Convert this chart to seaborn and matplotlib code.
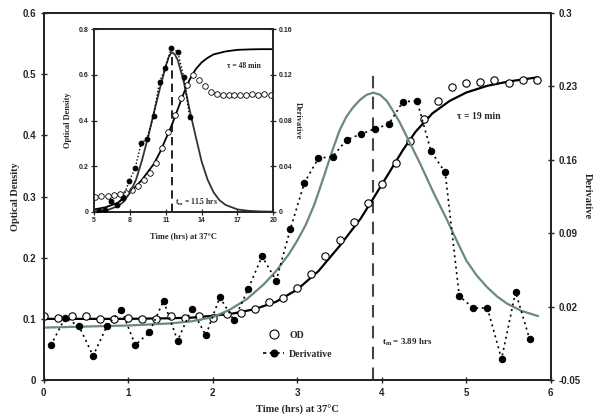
import numpy as np
import pandas as pd
import seaborn as sns
import matplotlib.pyplot as plt
from matplotlib.lines import Line2D

# ---- main panel data (time in hrs) ----
od_time = [0.0, 0.167, 0.333, 0.5, 0.667, 0.833, 1.0, 1.167, 1.333, 1.5, 1.667, 1.833,
           2.0, 2.167, 2.333, 2.5, 2.667, 2.833, 3.0, 3.167, 3.333, 3.5, 3.667, 3.833,
           4.0, 4.167, 4.333, 4.5, 4.667, 4.833, 5.0, 5.167, 5.333, 5.5, 5.667, 5.833]
od_vals = [0.104, 0.101, 0.104, 0.104, 0.099, 0.100, 0.102, 0.100, 0.099, 0.104, 0.101, 0.105,
           0.102, 0.108, 0.109, 0.116, 0.127, 0.134, 0.150, 0.174, 0.202, 0.229, 0.259, 0.290,
           0.321, 0.354, 0.390, 0.426, 0.456, 0.479, 0.485, 0.488, 0.490, 0.486, 0.491, 0.490]

der_time = [0.083, 0.25, 0.417, 0.583, 0.75, 0.917, 1.083, 1.25, 1.417, 1.583, 1.75, 1.917,
            2.083, 2.25, 2.417, 2.583, 2.75, 2.917, 3.083, 3.25, 3.417, 3.583, 3.75, 3.917,
            4.083, 4.25, 4.417, 4.583, 4.75, 4.917, 5.083, 5.25, 5.417, 5.583, 5.75]
der_vals = [-0.017, 0.009, 0.0015, -0.027, 0.002, 0.017, -0.0166, -0.0045, 0.0256, -0.0125, 0.018, -0.0074,
            0.029, 0.007, 0.0366, 0.068, 0.0447, 0.0937, 0.138, 0.1615, 0.163, 0.179, 0.1845, 0.1895,
            0.194, 0.2155, 0.216, 0.168, 0.148, 0.030, 0.0187, 0.0187, -0.030, 0.034, -0.0112]

fit_time = [0.0, 0.5, 1.0, 1.5, 1.75, 2.0, 2.25, 2.5, 2.75, 3.0, 3.25, 3.5, 3.75, 3.9,
            4.1, 4.25, 4.4, 4.6, 4.8, 5.0, 5.25, 5.5, 5.85]
fit_vals = [0.100, 0.100, 0.100, 0.101, 0.102, 0.105, 0.109, 0.116, 0.128, 0.148, 0.178, 0.219,
            0.264, 0.297, 0.342, 0.376, 0.406, 0.436, 0.456, 0.470, 0.481, 0.488, 0.495]

bell_time = [0.0, 0.5, 1.0, 1.5, 1.75, 2.0, 2.2, 2.4, 2.6, 2.75, 2.9, 3.0, 3.1, 3.2, 3.31, 3.42,
             3.5, 3.58, 3.66, 3.74, 3.82, 3.9, 3.98, 4.06, 4.13, 4.21, 4.29, 4.37, 4.45, 4.53,
             4.61, 4.69, 4.77, 4.88, 5.0, 5.12, 5.24, 5.36, 5.48, 5.65, 5.85]
bell_vals = [0.000, 0.001, 0.002, 0.004, 0.006, 0.010, 0.017, 0.027, 0.041, 0.054, 0.070, 0.083,
             0.098, 0.117, 0.143, 0.170, 0.188, 0.201, 0.210, 0.217, 0.222, 0.224, 0.222, 0.216,
             0.207, 0.196, 0.183, 0.170, 0.157, 0.143, 0.129, 0.116, 0.103, 0.084, 0.064, 0.050,
             0.039, 0.030, 0.023, 0.016, 0.011]

# ---- inset data ----
in_od_time = [5.1, 5.6, 6.15, 6.7, 7.2, 7.7, 8.2, 8.7, 9.2, 9.7, 10.2, 10.7, 11.2, 11.75, 12.25,
              12.75, 13.25, 13.75, 14.25, 14.75, 15.25, 15.75, 16.25, 16.75, 17.25, 17.75,
              18.25, 18.75, 19.25, 19.8]
in_od_vals = [0.066, 0.067, 0.069, 0.072, 0.076, 0.082, 0.095, 0.113, 0.140, 0.170, 0.215, 0.280,
              0.350, 0.425, 0.500, 0.555, 0.598, 0.578, 0.553, 0.527, 0.515, 0.512, 0.512, 0.512,
              0.513, 0.513, 0.518, 0.514, 0.516, 0.513]

in_der_time = [5.37, 5.92, 6.42, 6.87, 7.42, 7.93, 8.43, 8.93, 9.43, 9.97, 10.47, 10.97,
               11.47, 12.0, 12.5, 13.0]
in_der_vals = [0.001, 0.0015, 0.009, 0.006, 0.012, 0.027, 0.038, 0.060, 0.064, 0.084, 0.114, 0.126,
               0.144, 0.140, 0.118, 0.083]

in_fit_time = [5.0, 6.0, 7.0, 8.0, 9.0, 10.0, 10.5, 11.0, 11.5, 12.0, 12.5, 13.0, 13.5, 14.0,
               14.5, 15.0, 16.0, 17.0, 18.0, 19.0, 20.0]
in_fit_vals = [0.010, 0.020, 0.040, 0.085, 0.140, 0.210, 0.260, 0.320, 0.380, 0.450, 0.520, 0.580,
               0.625, 0.655, 0.675, 0.690, 0.703, 0.710, 0.712, 0.713, 0.713]

in_bell_time = [5.0, 6.0, 7.0, 7.5, 8.0, 8.5, 9.0, 9.5, 10.0, 10.5, 11.0, 11.25, 11.5, 11.75, 12.0,
                12.5, 13.0, 13.5, 14.0, 14.5, 15.0, 15.5, 16.0, 17.0, 18.0, 19.0, 20.0]
in_bell_vals = [0.0003, 0.001, 0.005, 0.009, 0.017, 0.028, 0.045, 0.065, 0.087, 0.108, 0.128, 0.136,
                0.140, 0.138, 0.133, 0.114, 0.089, 0.066, 0.044, 0.028, 0.017, 0.010, 0.006, 0.002,
                0.0007, 0.0002, 0.0001]

sns.set_style("ticks")
plt.rcParams['font.family'] = ['Liberation Serif', 'DejaVu Serif']
plt.rcParams['font.weight'] = 'bold'

tickfont = {'family': 'Liberation Sans', 'weight': 'bold'}
gray = '#6a8884'

fig = plt.figure(figsize=(6, 4.19), dpi=100)
ax = fig.add_axes([0.073, 0.093, 0.845, 0.876])
ax2 = ax.twinx()

# main curves
sns.lineplot(x=fit_time, y=fit_vals, ax=ax, color='black', lw=1.6, zorder=2)
sns.scatterplot(x=od_time, y=od_vals, ax=ax, marker='o', s=28, facecolor='white',
                edgecolor='black', linewidth=0.8, zorder=3)
sns.lineplot(x=bell_time, y=bell_vals, ax=ax2, color=gray, lw=1.6, zorder=2)
sns.lineplot(x=der_time, y=der_vals, ax=ax2, color='black', lw=1.2, linestyle=(0, (1.2, 2.2)),
             marker='o', markersize=4.6, markeredgecolor='black', markerfacecolor='black', zorder=3)
ax.vlines(3.89, 0, 0.5, color='#444444', lw=1.5, linestyles=(0, (6, 4)), zorder=1)

ax.set_xlim(0, 6)
ax.set_ylim(0, 0.6)
ax2.set_ylim(-0.05, 0.3)
ax.set_xticks([0, 1, 2, 3, 4, 5, 6])
ax.set_xticklabels(['0', '1', '2', '3', '4', '5', '6'], fontdict=tickfont, fontsize=7)
ax.set_yticks([0, 0.1, 0.2, 0.3, 0.4, 0.5, 0.6])
ax.set_yticklabels(['0', '0.1', '0.2', '0.3', '0.4', '0.5', '0.6'], fontdict=tickfont, fontsize=7)
ax2.set_yticks([-0.05, 0.02, 0.09, 0.16, 0.23, 0.3])
ax2.set_yticklabels(['-0.05', '0.02', '0.09', '0.16', '0.23', '0.3'], fontdict=tickfont, fontsize=7)
for a in (ax, ax2):
    a.tick_params(direction='inout', length=5, width=1, pad=3)
    for sp in a.spines.values():
        sp.set_linewidth(1.4)
        sp.set_visible(True)
ax.set_xlabel('Time (hrs) at 37°C', fontsize=7.5, fontweight='bold', labelpad=5)
ax.set_ylabel('Optical Density', fontsize=7.5, fontweight='bold', labelpad=2)
ax2.set_ylabel('Derivative', fontsize=7.5, fontweight='bold', rotation=270, labelpad=8)

ax.text(5.15, 0.431, 'τ = 19 min', fontsize=7, fontweight='bold', ha='center', va='center')
ax.text(4.0, 0.061, r'$\mathregular{t_m}$ = 3.89 hrs', fontsize=6.5, fontweight='bold',
        ha='left', va='center')

handles = [Line2D([], [], marker='o', ls='none', mfc='white', mec='black', ms=6.5, mew=0.8),
           Line2D([], [], marker='o', color='black', ls=(0, (2, 2)), lw=1.2, ms=4.8)]
ax.legend(handles, ['OD', 'Derivative'], loc='upper left', bbox_to_anchor=(0.415, 0.158),
          frameon=False, handlelength=2.2, handletextpad=0.5, labelspacing=1.0,
          prop={'weight': 'bold', 'size': 7})

# ---- inset ----
ins = fig.add_axes([0.157, 0.4947, 0.2985, 0.4353], zorder=5)
ins.set_facecolor('white')
ins2 = ins.twinx()
ins2.set_zorder(6)

sns.lineplot(x=in_fit_time, y=in_fit_vals, ax=ins, color='black', lw=1.3, zorder=2)
sns.scatterplot(x=in_od_time, y=in_od_vals, ax=ins, marker='o', s=16, facecolor='white',
                edgecolor='black', linewidth=0.6, zorder=3)
sns.lineplot(x=in_bell_time, y=in_bell_vals, ax=ins2, color='#333333', lw=1.3, zorder=2)
sns.lineplot(x=in_der_time, y=in_der_vals, ax=ins2, color='black', lw=1.0, linestyle=(0, (1, 1.5)),
             marker='o', markersize=3.4, markeredgecolor='black', markerfacecolor='black', zorder=3)
ins.vlines(11.5, 0, 0.7, color='black', lw=1.2, linestyles=(0, (5, 3)), zorder=1)

ins.set_xlim(5, 20)
ins.set_ylim(0, 0.8)
ins2.set_ylim(0, 0.16)
ins.set_xticks([5, 8, 11, 14, 17, 20])
ins.set_xticklabels(['5', '8', '11', '14', '17', '20'], fontdict=tickfont, fontsize=5)
ins.set_yticks([0, 0.2, 0.4, 0.6, 0.8])
ins.set_yticklabels(['0', '0.2', '0.4', '0.6', '0.8'], fontdict=tickfont, fontsize=5)
ins2.set_yticks([0, 0.04, 0.08, 0.12, 0.16])
ins2.set_yticklabels(['0', '0.04', '0.08', '0.12', '0.16'], fontdict=tickfont, fontsize=5)
for a in (ins, ins2):
    a.tick_params(direction='inout', length=4, width=0.9, pad=2)
    for sp in a.spines.values():
        sp.set_linewidth(1.3)
        sp.set_visible(True)
ins.set_xlabel('Time (hrs) at 37°C', fontsize=6, fontweight='bold', labelpad=6)
ins.set_ylabel('Optical Density', fontsize=6, fontweight='bold', labelpad=5)
ins2.set_ylabel('Derivative', fontsize=6, fontweight='bold', rotation=270, labelpad=7)

ins.text(17.5, 0.64, 'τ = 48 min', fontsize=5.5, fontweight='bold', ha='center', va='center')
ins.text(11.8, 0.04, r'$\mathregular{t_m}$ = 11.5 hrs', fontsize=5.5, fontweight='bold',
         ha='left', va='center')

fig.savefig('out.png', dpi=100)
